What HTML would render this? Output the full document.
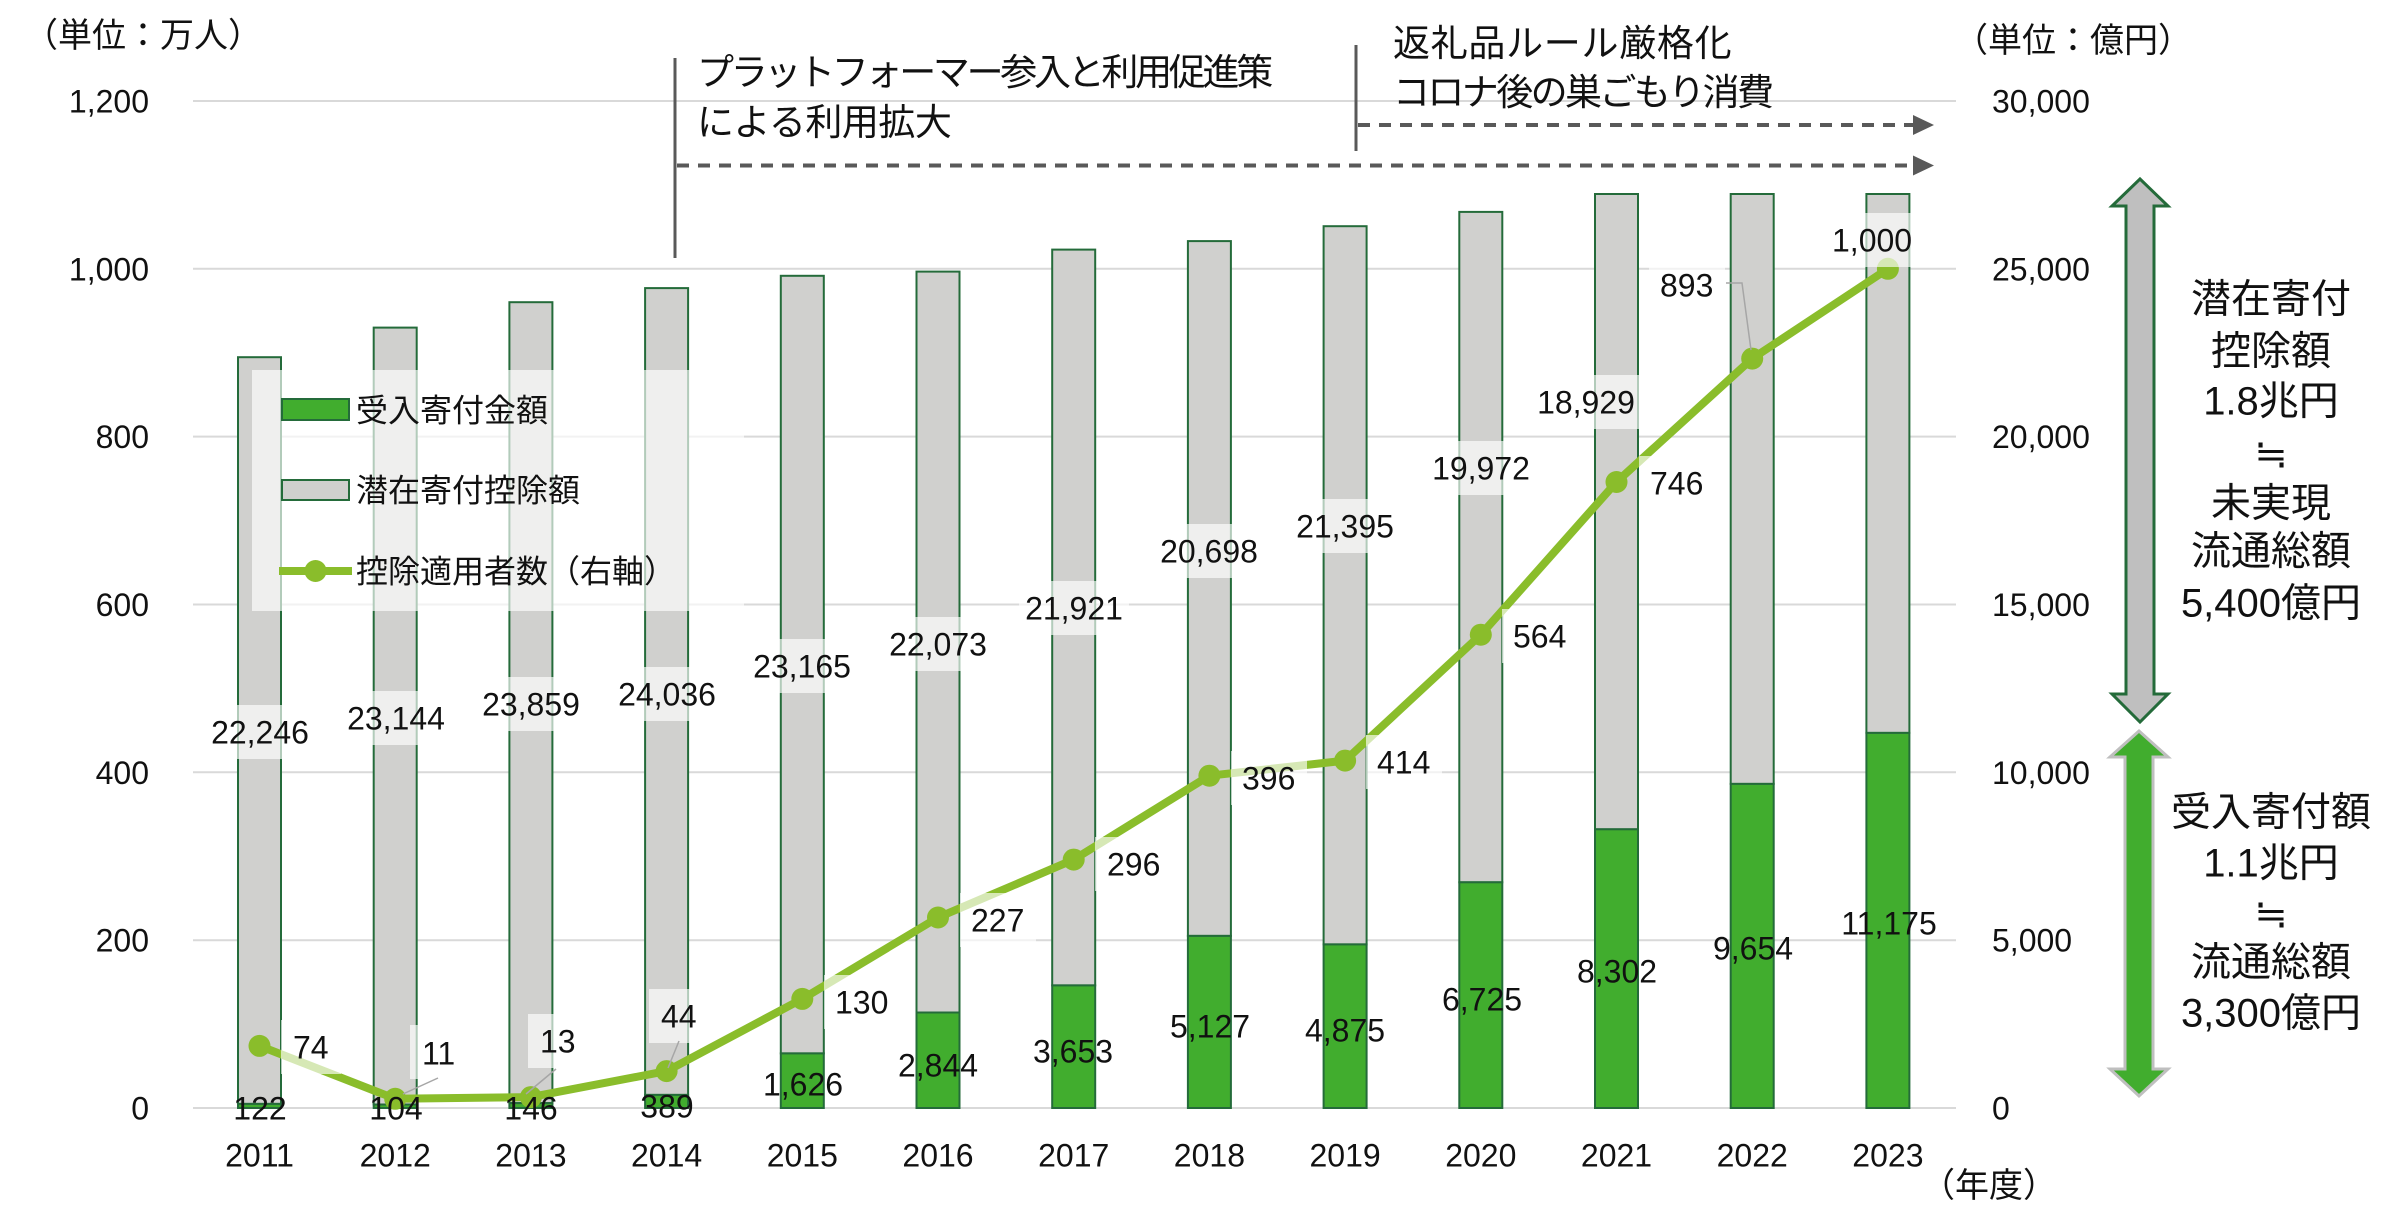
<!DOCTYPE html>
<html>
<head>
<meta charset="utf-8">
<style>
  html,body{margin:0;padding:0;background:#fff;}
  svg{display:block;}
  text{font-family:"Liberation Sans","Noto Sans CJK JP",sans-serif;fill:#111;}
</style>
</head>
<body>
<svg width="2400" height="1229" viewBox="0 0 2400 1229" xmlns="http://www.w3.org/2000/svg">
  <rect x="0" y="0" width="2400" height="1229" fill="#fff"/>

  <!-- gridlines -->
  <g stroke="#d9d9d9" stroke-width="2">
    <line x1="193" y1="1108" x2="1956" y2="1108"/>
    <line x1="193" y1="940.2" x2="1956" y2="940.2"/>
    <line x1="193" y1="772.3" x2="1956" y2="772.3"/>
    <line x1="193" y1="604.5" x2="1956" y2="604.5"/>
    <line x1="193" y1="436.6" x2="1956" y2="436.6"/>
    <line x1="193" y1="268.8" x2="1956" y2="268.8"/>
    <line x1="193" y1="101" x2="1956" y2="101"/>
  </g>

  <!-- left axis labels -->
  <g font-size="32" text-anchor="end">
    <text x="149" y="1119.5">0</text>
    <text x="149" y="951.7">200</text>
    <text x="149" y="783.8">400</text>
    <text x="149" y="616">600</text>
    <text x="149" y="448.1">800</text>
    <text x="149" y="280.3">1,000</text>
    <text x="149" y="112.5">1,200</text>
  </g>
  <!-- right axis labels -->
  <g font-size="32" text-anchor="start">
    <text x="1992" y="1119.5">0</text>
    <text x="1992" y="951.7">5,000</text>
    <text x="1992" y="783.8">10,000</text>
    <text x="1992" y="616">15,000</text>
    <text x="1992" y="448.1">20,000</text>
    <text x="1992" y="280.3">25,000</text>
    <text x="1992" y="112.5">30,000</text>
  </g>

  <!-- unit labels -->
  <text x="24" y="47" font-size="34">（単位：万人）</text>
  <text x="1954" y="52" font-size="34">（単位：億円）</text>
  <text x="1921" y="1197" font-size="34">（年度）</text>

  <!-- bars -->
  <g stroke="#246b3a" stroke-width="2">
    <g fill="#d0d0ce">
      <rect x="238" y="357.2" width="43" height="746.7"/>
      <rect x="373.7" y="327.6" width="43" height="776.9"/>
      <rect x="509.4" y="302.2" width="43" height="800.9"/>
      <rect x="645.1" y="288.1" width="43" height="806.8"/>
      <rect x="780.8" y="275.8" width="43" height="777.6"/>
      <rect x="916.5" y="271.6" width="43" height="740.9"/>
      <rect x="1052.2" y="249.6" width="43" height="735.8"/>
      <rect x="1187.9" y="241.1" width="43" height="694.8"/>
      <rect x="1323.6" y="226.2" width="43" height="718.2"/>
      <rect x="1459.3" y="211.9" width="43" height="670.4"/>
      <rect x="1595" y="194" width="43" height="635.3"/>
      <rect x="1730.7" y="194" width="43" height="589.9"/>
      <rect x="1866.4" y="194" width="43" height="538.9"/>
    </g>
    <g fill="#41ad2e">
      <rect x="238" y="1103.9" width="43" height="4.1"/>
      <rect x="373.7" y="1104.5" width="43" height="3.5"/>
      <rect x="509.4" y="1103.1" width="43" height="4.9"/>
      <rect x="645.1" y="1094.9" width="43" height="13.1"/>
      <rect x="780.8" y="1053.4" width="43" height="54.6"/>
      <rect x="916.5" y="1012.5" width="43" height="95.5"/>
      <rect x="1052.2" y="985.4" width="43" height="122.6"/>
      <rect x="1187.9" y="935.9" width="43" height="172.1"/>
      <rect x="1323.6" y="944.4" width="43" height="163.6"/>
      <rect x="1459.3" y="882.3" width="43" height="225.7"/>
      <rect x="1595" y="829.3" width="43" height="278.7"/>
      <rect x="1730.7" y="783.9" width="43" height="324.1"/>
      <rect x="1866.4" y="732.9" width="43" height="375.1"/>
    </g>
  </g>

  <!-- line series -->
  <polyline fill="none" stroke="#8abd2b" stroke-width="8" stroke-linejoin="round"
    points="259.5,1045.9 395.2,1098.8 530.9,1097.1 666.6,1071.1 802.3,998.9 938,917.5 1073.7,859.6 1209.4,775.7 1345.1,760.6 1480.8,634.7 1616.5,482 1752.2,358.6 1887.9,268.8"/>
  <g fill="#8abd2b">
    <circle cx="259.5" cy="1045.9" r="11"/>
    <circle cx="395.2" cy="1098.8" r="11"/>
    <circle cx="530.9" cy="1097.1" r="11"/>
    <circle cx="666.6" cy="1071.1" r="11"/>
    <circle cx="802.3" cy="998.9" r="11"/>
    <circle cx="938" cy="917.5" r="11"/>
    <circle cx="1073.7" cy="859.6" r="11"/>
    <circle cx="1209.4" cy="775.7" r="11"/>
    <circle cx="1345.1" cy="760.6" r="11"/>
    <circle cx="1480.8" cy="634.7" r="11"/>
    <circle cx="1616.5" cy="482" r="11"/>
    <circle cx="1752.2" cy="358.6" r="11"/>
    <circle cx="1887.9" cy="268.8" r="11"/>
  </g>

  <!-- label boxes (semi-transparent) -->
  <g fill="#fff" fill-opacity="0.65">
    <rect x="205" y="705" width="110" height="54"/>
    <rect x="341" y="691" width="110" height="54"/>
    <rect x="476" y="677" width="110" height="54"/>
    <rect x="612" y="667" width="110" height="54"/>
    <rect x="747" y="639" width="110" height="54"/>
    <rect x="883" y="617" width="110" height="54"/>
    <rect x="1019" y="581" width="110" height="54"/>
    <rect x="1154" y="524" width="110" height="54"/>
    <rect x="1290" y="499" width="110" height="54"/>
    <rect x="1426" y="441" width="110" height="54"/>
    <rect x="1531" y="375" width="110" height="54"/>
    <rect x="281" y="1020" width="60" height="54"/>
    <rect x="410" y="1025" width="58" height="54"/>
    <rect x="528" y="1014" width="58" height="54"/>
    <rect x="649" y="989" width="58" height="54"/>
    <rect x="824" y="975" width="76" height="54"/>
    <rect x="960" y="893" width="76" height="54"/>
    <rect x="1095" y="837" width="76" height="54"/>
    <rect x="1231" y="751" width="76" height="54"/>
    <rect x="1366" y="735" width="76" height="54"/>
    <rect x="1502" y="609" width="76" height="54"/>
    <rect x="1639" y="456" width="76" height="54"/>
    <rect x="1649" y="258" width="76" height="54"/>
    <rect x="1820" y="213" width="104" height="54"/>
  </g>

  <!-- leader lines -->
  <g stroke="#a6a6a6" stroke-width="1.5" fill="none">
    <line x1="438" y1="1078" x2="403" y2="1094"/>
    <line x1="556" y1="1069" x2="526" y2="1094"/>
    <line x1="679" y1="1041" x2="668" y2="1068"/>
    <polyline points="1726,283 1742,283 1751,350"/>
  </g>

  <!-- gray segment labels -->
  <g font-size="32" text-anchor="middle">
    <text x="260" y="743.5">22,246</text>
    <text x="396" y="729.5">23,144</text>
    <text x="531" y="715.5">23,859</text>
    <text x="667" y="705.5">24,036</text>
    <text x="802" y="677.5">23,165</text>
    <text x="938" y="655.5">22,073</text>
    <text x="1074" y="619.5">21,921</text>
    <text x="1209" y="562.5">20,698</text>
    <text x="1345" y="537.5">21,395</text>
    <text x="1481" y="479.5">19,972</text>
    <text x="1586" y="413.5">18,929</text>
  </g>

  <!-- green segment labels -->
  <g font-size="32" text-anchor="middle">
    <text x="260" y="1119.5">122</text>
    <text x="396" y="1119.5">104</text>
    <text x="531" y="1119.5">146</text>
    <text x="667" y="1117.5">389</text>
    <text x="803" y="1095.5">1,626</text>
    <text x="938" y="1076.5">2,844</text>
    <text x="1073" y="1062.5">3,653</text>
    <text x="1210" y="1037.5">5,127</text>
    <text x="1345" y="1041.5">4,875</text>
    <text x="1482" y="1010.5">6,725</text>
    <text x="1617" y="982.5">8,302</text>
    <text x="1753" y="959.5">9,654</text>
    <text x="1889" y="934.5">11,175</text>
  </g>

  <!-- line labels -->
  <g font-size="32" text-anchor="start">
    <text x="293" y="1058.5">74</text>
    <text x="422" y="1064.5">11</text>
    <text x="540" y="1052.5">13</text>
    <text x="661" y="1027.5">44</text>
    <text x="835" y="1013.5">130</text>
    <text x="971" y="931.5">227</text>
    <text x="1107" y="875.5">296</text>
    <text x="1242" y="789.5">396</text>
    <text x="1377" y="773.5">414</text>
    <text x="1513" y="647.5">564</text>
    <text x="1650" y="494.5">746</text>
    <text x="1660" y="296.5">893</text>
    <text x="1832" y="251.5">1,000</text>
  </g>

  <!-- year labels -->
  <g font-size="32" text-anchor="middle">
    <text x="259.5" y="1166.5">2011</text>
    <text x="395.2" y="1166.5">2012</text>
    <text x="530.9" y="1166.5">2013</text>
    <text x="666.6" y="1166.5">2014</text>
    <text x="802.3" y="1166.5">2015</text>
    <text x="938" y="1166.5">2016</text>
    <text x="1073.7" y="1166.5">2017</text>
    <text x="1209.4" y="1166.5">2018</text>
    <text x="1345.1" y="1166.5">2019</text>
    <text x="1480.8" y="1166.5">2020</text>
    <text x="1616.5" y="1166.5">2021</text>
    <text x="1752.2" y="1166.5">2022</text>
    <text x="1887.9" y="1166.5">2023</text>
  </g>

  <!-- legend -->
  <rect x="252" y="370" width="492" height="241" fill="#fff" fill-opacity="0.65"/>
  <rect x="282" y="399" width="67" height="21" fill="#41ad2e" stroke="#246b3a" stroke-width="2"/>
  <rect x="282" y="480" width="67" height="20" fill="#d0d0ce" stroke="#246b3a" stroke-width="2"/>
  <line x1="279" y1="571" x2="352" y2="571" stroke="#8abd2b" stroke-width="8"/>
  <circle cx="315.5" cy="571" r="11" fill="#8abd2b"/>
  <g font-size="32">
    <text x="356" y="421.5">受入寄付金額</text>
    <text x="356" y="501.5">潜在寄付控除額</text>
    <text x="356" y="582.5">控除適用者数（右軸）</text>
  </g>

  <!-- annotations -->
  <g stroke="#595959" stroke-width="3">
    <line x1="675" y1="58" x2="675" y2="258"/>
    <line x1="1356" y1="45" x2="1356" y2="151"/>
  </g>
  <g stroke="#595959" stroke-width="4" stroke-dasharray="12 9" fill="none">
    <line x1="677" y1="165.5" x2="1913" y2="165.5"/>
    <line x1="1358" y1="125" x2="1913" y2="125"/>
  </g>
  <g fill="#595959">
    <polygon points="1913,155.5 1934,165.5 1913,175.5"/>
    <polygon points="1913,115 1934,125 1913,135"/>
  </g>
  <g font-size="37">
    <text x="697" y="85" style="letter-spacing:-3.3px">プラットフォーマー参入と利用促進策</text>
    <text x="697" y="135" style="letter-spacing:-0.5px">による利用拡大</text>
    <text x="1393" y="56" style="letter-spacing:0.7px">返礼品ルール厳格化</text>
    <text x="1393" y="105" style="letter-spacing:-2.6px">コロナ後の巣ごもり消費</text>
  </g>

  <!-- right double arrows -->
  <polygon points="2140,179 2168,206 2154,206 2154,694 2168,694 2140,722 2112,694 2126,694 2126,206 2112,206"
    fill="#bfbfbf" stroke="#246b3a" stroke-width="3" stroke-linejoin="miter"/>
  <polygon points="2139,731 2168,757 2153,757 2153,1069 2168,1069 2139,1096 2110,1069 2125,1069 2125,757 2110,757"
    fill="#41ad2e" stroke="#bfbfbf" stroke-width="3" stroke-linejoin="miter"/>

  <!-- right text blocks -->
  <g font-size="40" text-anchor="middle">
    <text x="2271" y="312.4">潜在寄付</text>
    <text x="2271" y="364.4">控除額</text>
    <text x="2271" y="414.4">1.8兆円</text>
    <text x="2271" y="467.4">≒</text>
    <text x="2271" y="516.4">未実現</text>
    <text x="2271" y="564.4">流通総額</text>
    <text x="2271" y="616.4">5,400億円</text>

    <text x="2271" y="825.4">受入寄付額</text>
    <text x="2271" y="876.4">1.1兆円</text>
    <text x="2271" y="927.4">≒</text>
    <text x="2271" y="975.4">流通総額</text>
    <text x="2271" y="1026.4">3,300億円</text>
  </g>
</svg>
</body>
</html>
